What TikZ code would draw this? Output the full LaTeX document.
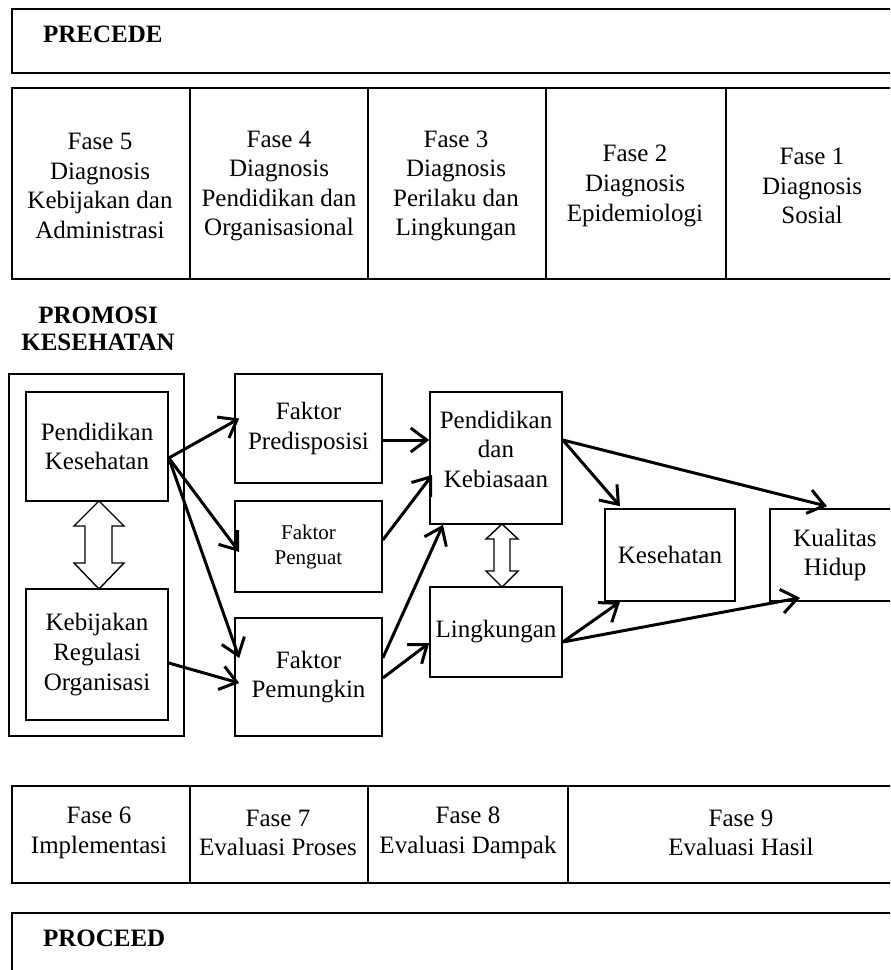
\documentclass[tikz,border=0pt]{standalone}
\usepackage{fontspec}
\setmainfont{Liberation Serif}
\usetikzlibrary{arrows.meta}

\tikzset{
  box/.style={draw,line width=0.8pt,inner sep=0pt,align=center,
    font=\fontsize{12.5}{14.8}\selectfont},
  txt/.style={align=center,font=\fontsize{12.5}{14.8}\selectfont},
  head/.style={align=center,font=\bfseries\fontsize{12.5}{13.5}\selectfont},
  link/.style={line width=1.5pt,-{Straight Barb[length=8pt,width=12pt]}},
  hollow/.style={draw,line width=0.7pt,fill=white,line join=miter},
  frame/.style={line width=1pt},
}

\begin{document}
\begin{tikzpicture}[x=0.5pt,y=-0.5pt]
  \useasboundingbox (0,0) rectangle (890,970);
  \clip (0,0) rectangle (890,970);

  % PRECEDE band and phases 5..1
  \draw[frame] (12,9) rectangle (900,73);
  \node[head,anchor=west] (precede) at (36,34) {PRECEDE};
  \draw[frame] (12,88) rectangle (900,279);
  \foreach \xd in {190,368,546,726} \draw[frame] (\xd,88) -- (\xd,279);
  \foreach \n/\xc/\lab in {5/100/{Fase 5\\Diagnosis\\Kebijakan dan\\Administrasi},
                           4/279/{Fase 4\\Diagnosis\\Pendidikan dan\\Organisasional},
                           3/456/{Fase 3\\Diagnosis\\Perilaku dan\\Lingkungan},
                           2/635/{Fase 2\\Diagnosis\\Epidemiologi},
                           1/812/{Fase 1\\Diagnosis\\Sosial}}
    \node[txt] (fase\n) at (\xc,186) {\lab};

  % promosi kesehatan block
  \node[head] (promosi) at (98,329) {PROMOSI\\KESEHATAN};
  \draw[line width=0.8pt] (9,374) rectangle (184,736);
  \node[box,minimum width=71pt,minimum height=54.5pt] (pk) at (97,446.5)
    {Pendidikan\\Kesehatan};
  \node[box,minimum width=71pt,minimum height=65.5pt] (kr) at (97,654.5)
    {Kebijakan\\Regulasi\\Organisasi};

  \node[box,minimum width=73.5pt,minimum height=54.5pt] (fp) at (308.5,428.5)
    {Faktor\\Predisposisi};
  \node[box,minimum width=73.5pt,minimum height=45.5pt,
    font=\fontsize{10.5}{12.5}\selectfont] (fg) at (308.5,546.5)
    {Faktor\\Penguat};
  \node[box,minimum width=73.5pt,minimum height=59pt] (fm) at (308.5,677)
    {Faktor\\Pemungkin};

  \node[box,minimum width=66pt,minimum height=66pt] (pb) at (496,458)
    {Pendidikan\\dan\\Kebiasaan\\[-5.8pt]};
  \node[box,minimum width=66pt,minimum height=45pt] (lk) at (496,632)
    {Lingkungan};
  \node[box,minimum width=65pt,minimum height=46pt] (ks) at (670,555)
    {Kesehatan};
  \node[box,minimum width=65pt,minimum height=46pt] (kh) at (835,555)
    {Kualitas\\Hidup};

  % two-way links
  \draw[hollow] (99,501) -- (124,526) -- (112,526) -- (112,563) -- (124,563)
    -- (99,589) -- (74,563) -- (85,563) -- (85,526) -- (74,526) -- cycle;
  \draw[hollow] (502,524) -- (518,539) -- (510,539) -- (510,571) -- (518,571)
    -- (502,587) -- (486,571) -- (494,571) -- (494,539) -- (486,539) -- cycle;

  % arrows
  \draw[link] ([yshift=-5.75pt]pk.east) -- ([xshift=2.5pt,yshift=5pt]fp.west);
  \draw[link] ([yshift=-5.75pt]pk.east) -- ([xshift=2.5pt,yshift=-2.75pt]fg.west);
  \draw[link] ([yshift=-5.75pt]pk.east) -- ([xshift=2.5pt,yshift=9.5pt]fm.west);
  \draw[link] ([yshift=-4.25pt]kr.east) -- ([xshift=2.5pt,yshift=-3pt]fm.west);
  \draw[link] ([yshift=-5.75pt]fp.east) -- ([yshift=9pt]pb.west);
  \draw[link] ([yshift=3.25pt]fg.east) -- ([xshift=1.5pt,yshift=-8.5pt]pb.west);
  \draw[link] ([yshift=9.5pt]fm.east) -- ([xshift=-26.5pt]pb.south);
  \draw[link] ([yshift=-0.5pt]fm.east) -- ([yshift=-5.5pt]lk.west);
  \draw[link] ([yshift=9pt]pb.east) -- ([xshift=-25pt,yshift=1pt]ks.north);
  \draw[link] ([yshift=9pt]pb.east) -- ([xshift=-4pt,yshift=1pt]kh.north);
  \draw[link] ([yshift=-5pt]lk.east) -- ([xshift=-25pt]ks.south);
  \draw[link] ([yshift=-5pt]lk.east) -- ([xshift=-17.5pt,yshift=2pt]kh.south);

  % PROCEED band and phases 6..9
  \draw[frame] (12,786) rectangle (900,883);
  \foreach \xd in {190,368,568} \draw[frame] (\xd,786) -- (\xd,883);
  \foreach \n/\xc/\lab in {6/99/{Fase 6\\Implementasi},
                           7/278/{Fase 7\\Evaluasi Proses},
                           8/468/{Fase 8\\Evaluasi Dampak},
                           9/741/{Fase 9\\Evaluasi Hasil}}
    \node[txt] (fase\n) at (\xc,833) {\lab};
  \draw[frame] (12,913) rectangle (900,990);
  \node[head,anchor=west] (proceed) at (36,938) {PROCEED};
\end{tikzpicture}
\end{document}
